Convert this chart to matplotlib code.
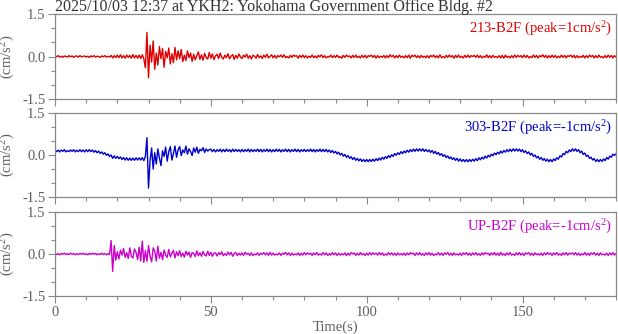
import numpy as np
import matplotlib
matplotlib.use("Agg")
import matplotlib.pyplot as plt
from matplotlib.ticker import MultipleLocator

plt.rcParams['font.family'] = ['Liberation Serif', 'DejaVu Serif']
plt.rcParams['mathtext.fontset'] = 'custom'
plt.rcParams['mathtext.rm'] = 'Liberation Serif'
plt.rcParams['mathtext.default'] = 'regular'

TITLE = "2025/10/03 12:37 at YKH2: Yokohama Government Office Bldg. #2"
SAMPLE_DT = 0.5  # seconds between samples

# acceleration samples, in units of 0.01 cm/s^2, one row per 10 s
trace_213 = [
    2, -1, 3, -2, 1, -3, 2, 0, -2, 3, -1, 2, -3, 1, 2, -2, 3, -1, 0, 2,
    -2, 1, -3, 2, -1, 3, -2, 1, 0, -3, 2, -1, 3, -2, 1, -2, 4, -5, 3, -4,
    5, -4, 6, -5, 3, -6, 5, -3, 4, -6, 7, -5, 4, -6, 5, -7, 6, -8, -40, 85,
    -75, 40, -20, 55, -45, 12, -30, 35, -8, 28, -38, 18, -5, 30, -26, 10, -22, 32, -12, 20,
    -8, 25, -18, 5, -14, 20, -4, 12, -17, 8, -12, 3, 16, -10, 6, -13, 11, -4, -9, 14,
    -6, 9, -11, 2, 8, -7, 12, -3, -9, 5, -4, 10, -8, 1, 7, -10, 4, -6, 9, -2,
    -7, 5, -2, 8, -6, 3, -8, 4, 1, -6, 7, -4, 2, -7, 5, -3, 8, -5, 0, 6,
    -5, 4, -6, 3, -1, 5, -3, 6, -4, 0, -5, 4, -3, 5, 1, 3, -6, 4, -3, 5,
    -4, 3, -5, 1, -3, 5, -4, 2, -5, 4, -1, 6, -4, 3, -5, 0, -2, 5, -4, 3,
    -3, 5, -4, 0, -6, 4, -3, 5, -1, 2, -5, 4, -3, 5, -4, 1, -5, 4, -3, 4,
    -5, 3, 0, 5, -3, 4, -6, 3, -4, 1, -3, 4, -5, 3, -4, 6, -1, 4, -5, 3,
    -4, 5, -3, 1, -5, 3, -4, 5, -6, 4, 0, 5, -4, 3, -5, 4, -3, 1, -4, 3,
    -5, 4, -1, 5, -4, 3, -5, 6, -4, 0, -5, 4, -3, 5, -2, 3, -6, 4, -3, 5,
    -4, 1, -5, 4, -3, 5, -4, 3, 0, 4, -3, 5, -4, 3, -5, 1, -3, 6, -4, 3,
    -5, 4, -3, 0, -4, 3, -5, 4, -6, 5, -3, 1, -5, 3, -4, 5, -3, 4, -1, 3,
    -4, 5, -3, 4, -5, 0, -4, 5, -3, 4, -5, 3, -1, 6, -3, 4, -5, 3, -4, 5,
    -3, 4, -5, 1, -4, 5, -3, 4, -5, 3, 0, 5, -3, 4, -5, 3, -4, 1, -3, 4,
    -5, 3, -4, 5, -1, 4, -5, 3, -4, 5, -3, 0, -5, 3, -4, 5, -3, 4, -5, 3,
    -2,
]

trace_303 = [
    19, 12, 17, 11, 18, 13, 19, 11, 16, 12, 18, 13, 19, 11, 17, 12, 19, 12, 18, 11,
    19, 12, 19, 12, 18, 10, 16, 8, 14, 6, 11, 3, 8, -1, 4, -5, 0, -12, -3, -12,
    -5, -13, -7, -16, -9, -18, -10, -19, -11, -19, -11, -19, -10, -18, -10, -18, -9, -20, -5, 62,
    -118, -20, 25, -50, 8, -32, 22, -10, -38, 15, -5, 28, -22, 12, 30, -18, 5, 32, -8, 18,
    30, -2, 18, 8, 32, 3, 22, 12, -2, 25, 10, 28, 6, 20, 15, 26, 9, 22, 14, 19,
    21, 12, 20, 11, 19, 13, 21, 11, 20, 12, 21, 13, 19, 11, 21, 12, 20, 13, 19, 11,
    20, 12, 19, 13, 21, 11, 20, 12, 19, 13, 21, 12, 20, 11, 19, 13, 21, 12, 20, 11,
    19, 12, 21, 13, 20, 11, 19, 13, 21, 12, 20, 11, 19, 13, 21, 12, 20, 11, 19, 13,
    20, 12, 19, 13, 21, 12, 20, 11, 19, 13, 21, 12, 20, 12, 20, 11, 18, 9, 16, 7,
    13, 4, 10, 0, 6, -4, 2, -8, -2, -12, -6, -16, -9, -19, -12, -21, -14, -23, -16, -24,
    -16, -24, -16, -23, -15, -22, -13, -20, -11, -18, -8, -15, -6, -12, -2, -9, 1, -5, 5, -1,
    8, 2, 12, 5, 14, 8, 17, 10, 19, 12, 21, 13, 22, 14, 22, 14, 22, 13, 20, 12,
    18, 9, 16, 6, 13, 3, 9, -1, 5, -5, 1, -9, -3, -13, -7, -16, -10, -19, -12, -22,
    -14, -23, -16, -24, -16, -24, -16, -23, -15, -22, -13, -20, -10, -17, -8, -14, -4, -11, -1, -7,
    3, -3, 7, 1, 10, 4, 14, 7, 16, 10, 19, 12, 21, 13, 22, 14, 22, 14, 21, 12,
    19, 9, 15, 5, 11, 0, 6, -5, 0, -10, -5, -15, -9, -19, -13, -22, -15, -24, -16, -24,
    -14, -20, -10, -15, -3, -7, 5, 1, 13, 8, 18, 12, 22, 14, 22, 13, 19, 8, 14, 2,
    7, -5, -1, -12, -8, -18, -13, -23, -16, -24, -16, -23, -14, -20, -9, -15, -4, -8, 3, -2,
    4,
]

trace_up = [
    2, -2, 1, -3, 2, -1, 3, -2, 1, -2, 3, -1, 2, -3, 1, -2, 2, -1, 3, -2,
    1, -3, 2, -2, 3, -1, 2, -3, 1, -2, 3, -2, 2, -3, 1, -2, 48, -62, 30, -22,
    8, -18, 14, -4, 20, -12, 5, -16, 22, -9, -14, 18, 6, -20, 24, -25, 46, -30, 12, -26,
    30, -8, -28, 22, 10, -25, 28, -15, 6, -20, 14, -4, -12, 16, -10, 3, 13, -14, 8, -6,
    12, -9, 3, -11, 10, -4, 7, -12, 5, 2, -9, 11, -6, 4, -8, 9, -3, -7, 10, -5,
    6, -8, 3, 4, -7, 5, -2, 8, -6, 1, -5, 7, -3, 6, -8, 2, 5, -6, 3, -4,
    4, -5, 6, -1, 3, -5, 4, -6, 0, -3, 4, -5, 3, -1, 5, -3, 4, -5, 6, -4,
    3, -4, 0, -3, 4, -5, 3, -1, 6, -3, 4, -5, 3, -4, 0, -3, 4, -5, 3, -4,
    5, -3, 4, -1, 3, -5, 4, -3, 5, -4, 0, -4, 5, -3, 4, -5, 1, -4, 5, -3,
    4, -5, 3, -4, 1, -3, 4, -6, 3, -4, 5, 0, 4, -5, 3, -4, 5, -3, 1, -5,
    3, -4, 5, -3, 4, -1, 3, -4, 5, -3, 4, -5, 0, -4, 5, -3, 4, -4, 3, -5,
    4, -3, 1, -4, 3, -5, 4, -3, 5, 0, 3, -5, 4, -3, 5, -4, 1, -5, 4, -3,
    5, -4, 3, -5, 0, -3, 5, -4, 3, -5, 4, -1, 5, -4, 3, -5, 4, -3, 0, -4,
    3, -5, 4, -1, 5, -4, 3, -5, 4, -3, 5, -4, 1, -5, 4, -3, 5, 0, 3, -5,
    4, -3, 5, -4, 3, -5, 6, -4, 1, -5, 4, -3, 5, -4, 0, -5, 4, -3, 5, -4,
    3, -5, 4, 0, 5, -4, 3, -5, 4, -3, 1, -4, 3, -5, 4, -3, 5, -1, 3, -5,
    4, -3, 5, -4, 1, -5, 4, -3, 5, -4, 3, 0, 4, -3, 5, -4, 3, -5, 1, -3,
    5, -4, 3, -5, 4, -1, 5, -4, 3, -5, 4, -3, 0, -4, 3, -5, 4, -3, 5, -4,
    2,
]

channels = [
    ("213-B2F (peak=1cm/s$^2$)", trace_213, "#dd0000"),
    ("303-B2F (peak=-1cm/s$^2$)", trace_303, "#0000cc"),
    ("UP-B2F (peak=-1cm/s$^2$)", trace_up, "#cc00cc"),
]

W, H = 618, 334
fig = plt.figure(figsize=(W / 100, H / 100), dpi=100)

# panel boxes in pixels: (top, bottom)
panels = [(14, 99), (113, 197), (212, 296)]
left_px, right_px = 55, 616
grey = "#888888"
text_grey = "#606060"

for i, ((top, bot), (label, vals, color)) in enumerate(zip(panels, channels)):
    ax = fig.add_axes([left_px / W, 1 - bot / H, (right_px - left_px) / W, (bot - top) / H])
    y = np.array(vals) / 100.0
    t = np.arange(len(y)) * SAMPLE_DT
    ax.plot(t, y, color=color, linewidth=1.0)

    ax.set_xlim(0, 180)
    ax.set_ylim(-1.5, 1.5)
    ax.set_yticks([-1.5, 0, 1.5])
    ax.set_yticklabels(["-1.5", "0.0", "1.5"])
    ax.yaxis.set_minor_locator(MultipleLocator(0.5))
    ax.xaxis.set_major_locator(MultipleLocator(50))
    ax.xaxis.set_minor_locator(MultipleLocator(10))
    ax.tick_params(which="major", direction="out", length=5, width=0.8, color=grey,
                   labelsize=10.5, labelcolor=text_grey, pad=2)
    ax.tick_params(which="minor", direction="out", length=3, width=0.8, color=grey)
    if i < 2:
        ax.tick_params(axis="x", labelbottom=False)
    for s in ax.spines.values():
        s.set_color(grey)
        s.set_linewidth(0.9)

    ax.set_ylabel("(cm/s$^2$)", fontsize=10.5, color=text_grey)
    ax.yaxis.set_label_coords((17 - left_px) / (right_px - left_px), 0.5)
    ax.text(0.993, 0.93, label, transform=ax.transAxes, ha="right", va="top",
            fontsize=10.5, color=color)

    if i == 2:
        ax.set_xlabel("Time(s)", fontsize=10.5, color=text_grey, labelpad=1)

fig.text(left_px / W, 1 - 11 / H, TITLE, ha="left", va="baseline",
         fontsize=11.5, color="#333333")

fig.savefig("out.png", dpi=100)
